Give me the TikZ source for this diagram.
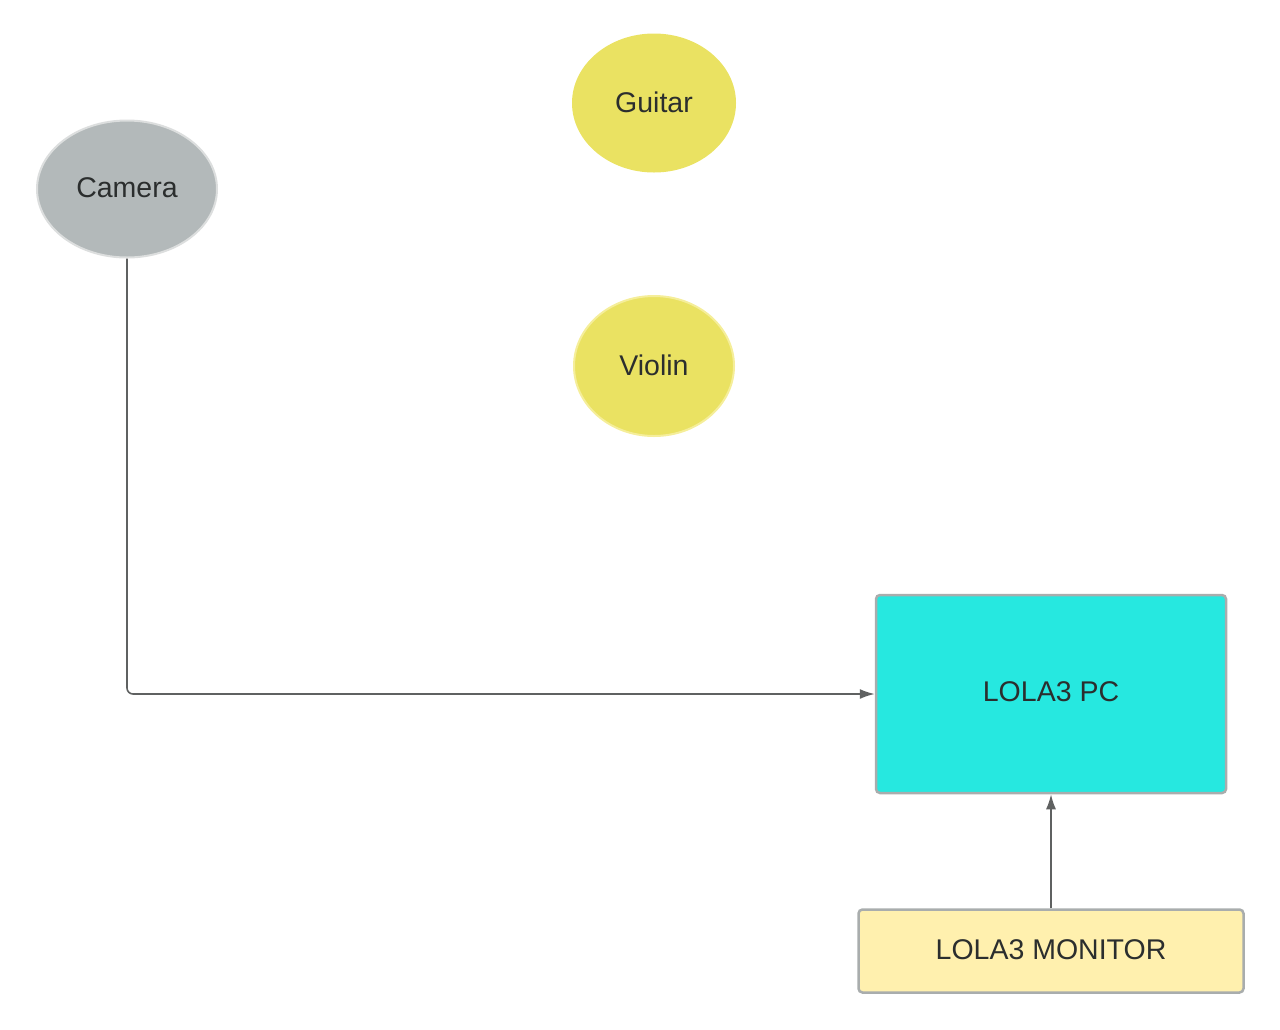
\documentclass[tikz,border=0pt]{standalone}
\usepackage{fontspec}
\setmainfont{Liberation Sans}
\usetikzlibrary{shapes.geometric,arrows.meta}
\definecolor{camfill}{HTML}{B3B9BA}
\definecolor{camline}{HTML}{DCDEDE}
\definecolor{yel}{HTML}{EAE262}
\definecolor{yelline}{HTML}{F5EE9A}
\definecolor{cyanfill}{HTML}{26E8E0}
\definecolor{boxline}{HTML}{A9ADAD}
\definecolor{monfill}{HTML}{FFF0AE}
\definecolor{txt}{HTML}{2B2E2E}
\definecolor{conn}{HTML}{5F6161}
\tikzset{
  oval/.style={ellipse, draw, line width=2pt, inner sep=0pt, text=txt, font=\fontsize{28.5}{30}\selectfont},
  boxnode/.style={rectangle, rounded corners=4pt, draw=boxline, line width=2.5pt, inner sep=0pt, text=txt, font=\fontsize{28.5}{30}\selectfont},
  conline/.style={draw=conn, line width=1.6pt, -{Latex[length=15pt,width=10pt]}, rounded corners=6pt}
}
\begin{document}
\begin{tikzpicture}[x=1pt,y=-1pt]
\useasboundingbox (0,0) rectangle (1280,1029);
\node[oval, fill=camfill, draw=camline, minimum width=180pt, minimum height=137pt] (camera) at (127,189) {\raisebox{2pt}{Camera}};
\node[oval, fill=yel, draw=yel, minimum width=162pt, minimum height=137pt] (guitar) at (654,103) {\raisebox{2pt}{Guitar}};
\node[oval, fill=yel, draw=yelline, minimum width=160pt, minimum height=140pt] (violin) at (654,366) {\raisebox{2pt}{Violin}};
\node[boxnode, fill=cyanfill, minimum width=350pt, minimum height=198pt] (pc) at (1051,694) {\raisebox{4pt}{LOLA3 PC}};
\node[boxnode, fill=monfill, minimum width=385pt, minimum height=83pt] (monitor) at (1051,951) {\raisebox{2pt}{LOLA3 MONITOR}};
\draw[conline] (camera.south) |- (pc.west);
\draw[conline] (monitor.north) -- (pc.south);
\end{tikzpicture}
\end{document}
